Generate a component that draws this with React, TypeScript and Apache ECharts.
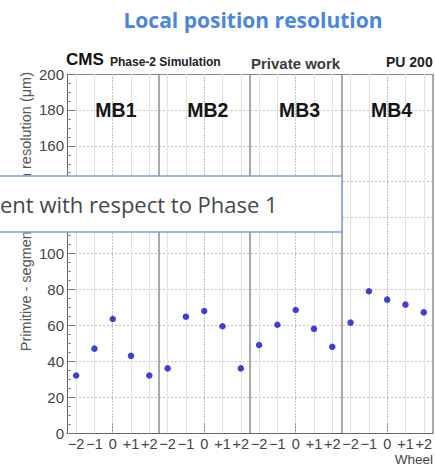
import React, { useEffect, useRef } from "react";
import * as echarts from "echarts";

// Barrel stations and wheels
const stations = ["MB1", "MB2", "MB3", "MB4"];
const wheels = ["−2", "−1", "0", "+1", "+2"];

// Primitive - segment resolution (µm) per wheel, one list per station
const mb1Resolution = [32, 47, 63.5, 43, 32];
const mb2Resolution = [36, 64.8, 68, 59.5, 36];
const mb3Resolution = [49, 60.3, 68.5, 58, 48];
const mb4Resolution = [61.5, 79, 74.3, 71.5, 67.2];

const yMin = 0;
const yMax = 200;
const yStep = 20;

const stationResolution = [mb1Resolution, mb2Resolution, mb3Resolution, mb4Resolution];

// one category per (station, wheel) bin
const categories = stations.flatMap((s) => wheels.map((w) => `${s} ${w}`));
const points = stationResolution.flat();

const TEXT_FONT = "'Liberation Sans', Arial, sans-serif";

export default function App() {
  const ref = useRef<HTMLDivElement>(null);

  useEffect(() => {
    if (!ref.current) return;
    const chart = echarts.init(ref.current, null, { renderer: "svg" });

    const gridLeft = 67;
    const gridTop = 74;
    const gridWidth = 367.4;
    const gridHeight = 359;
    const bin = gridWidth / categories.length;

    const stationLabels = stations.map((s, i) => ({
      type: "text",
      x: gridLeft + bin * (i * 5 + 2.5) + 3,
      y: 110,
      z: 10,
      style: {
        text: s,
        fontSize: 19.5,
        fontWeight: "bold",
        fontFamily: TEXT_FONT,
        fill: "#151515",
        align: "center",
        verticalAlign: "middle",
      },
    }));

    chart.setOption({
      animation: false,
      backgroundColor: "#ffffff",
      grid: { left: gridLeft, top: gridTop, width: gridWidth, height: gridHeight },
      xAxis: [
        {
          type: "category",
          data: categories,
          boundaryGap: true,
          axisLine: { show: true, lineStyle: { color: "#666", width: 1 } },
          axisTick: {
            show: true,
            alignWithLabel: true,
            inside: true,
            length: 9,
            lineStyle: { color: "#777" },
          },
          axisLabel: {
            interval: 0,
            margin: 3,
            fontSize: 14.5,
            fontFamily: TEXT_FONT,
            color: "#444",
            formatter: (v: string) => v.split(" ")[1],
          },
          splitLine: {
            show: true,
            interval: (idx: number) => idx > 0 && idx % wheels.length === 0,
            lineStyle: { color: "#a9a9a9", width: 2 },
          },
        },
        {
          type: "category",
          data: categories,
          position: "top",
          axisLine: { show: true, lineStyle: { color: "#888", width: 1 } },
          axisTick: { show: false },
          axisLabel: { show: false },
          splitLine: { show: false },
        },
      ],
      yAxis: {
        type: "value",
        min: yMin,
        max: yMax,
        interval: yStep,
        axisLine: { show: true, lineStyle: { color: "#666", width: 1 } },
        axisTick: { show: true, inside: true, length: 8, lineStyle: { color: "#777" } },
        minorTick: { show: true, splitNumber: 4, length: 4, lineStyle: { color: "#888" } },
        axisLabel: {
          margin: 3,
          fontSize: 15,
          fontFamily: TEXT_FONT,
          color: "#444",
        },
        splitLine: {
          show: true,
          lineStyle: { color: "#c4c4c4", width: 1, type: [2, 2] },
        },
      },
      series: [
        {
          type: "scatter",
          data: points,
          symbol: "circle",
          symbolSize: 6.5,
          itemStyle: { color: "#1212cc" },
          z: 5,
          markLine: {
            silent: true,
            symbol: "none",
            label: { show: false },
            z: 1,
            data: categories.map((c) => ({
              xAxis: c,
              lineStyle: c.endsWith(" 0")
                ? { color: "#c2c2c2", width: 1, type: [2, 1] }
                : { color: "#e2e2e2", width: 1, type: "solid" },
            })),
          },
        },
      ],
      graphic: [
        {
          type: "text",
          x: 253,
          y: 20,
          style: {
            text: "Local position resolution",
            fontSize: 21,
            fontWeight: "bold",
            fontFamily: "'Open Sans', sans-serif",
            fill: "#4a86dc",
            align: "center",
            verticalAlign: "middle",
          },
        },
        {
          type: "text",
          x: 66,
          y: 68,
          style: {
            text: "CMS",
            fontSize: 17,
            fontWeight: "bold",
            fontFamily: TEXT_FONT,
            fill: "#111",
            align: "left",
            verticalAlign: "bottom",
          },
        },
        {
          type: "text",
          x: 110,
          y: 68,
          style: {
            text: "Phase-2 Simulation",
            fontSize: 12,
            fontWeight: "bold",
            fontFamily: TEXT_FONT,
            fill: "#222",
            align: "left",
            verticalAlign: "bottom",
          },
        },
        {
          type: "text",
          x: 251,
          y: 71,
          style: {
            text: "Private work",
            fontSize: 15,
            fontWeight: "bold",
            fontFamily: TEXT_FONT,
            fill: "#3c3c3c",
            align: "left",
            verticalAlign: "bottom",
          },
        },
        {
          type: "text",
          x: 386,
          y: 69,
          style: {
            text: "PU 200",
            fontSize: 14,
            fontWeight: "bold",
            fontFamily: TEXT_FONT,
            fill: "#222",
            align: "left",
            verticalAlign: "bottom",
          },
        },
        ...stationLabels,
        {
          type: "text",
          x: 26,
          y: 72,
          rotation: Math.PI / 2,
          style: {
            text: "Primitive - segment position resolution (μm)",
            fontSize: 14.5,
            fontFamily: TEXT_FONT,
            fill: "#555",
            align: "right",
            verticalAlign: "middle",
          },
        },
        {
          type: "text",
          x: 433,
          y: 466,
          style: {
            text: "Wheel",
            fontSize: 13.5,
            fontFamily: TEXT_FONT,
            fill: "#444",
            align: "right",
            verticalAlign: "bottom",
          },
        },
        {
          type: "rect",
          z: 100,
          shape: { x: -4, y: 176, width: 346, height: 56 },
          style: { fill: "#ffffff", stroke: "#7d9ee0", lineWidth: 1.5 },
        },
        {
          type: "text",
          z: 101,
          x: 0,
          y: 204,
          style: {
            text: "ent with respect to Phase 1",
            fontSize: 22,
            fontFamily: "'Open Sans', sans-serif",
            fill: "#474747",
            align: "left",
            verticalAlign: "middle",
          },
        },
      ],
    });

    return () => chart.dispose();
  }, []);

  return (
    <div
      ref={ref}
      style={{ position: "fixed", left: 0, top: 0, width: 435, height: 469 }}
    />
  );
}
